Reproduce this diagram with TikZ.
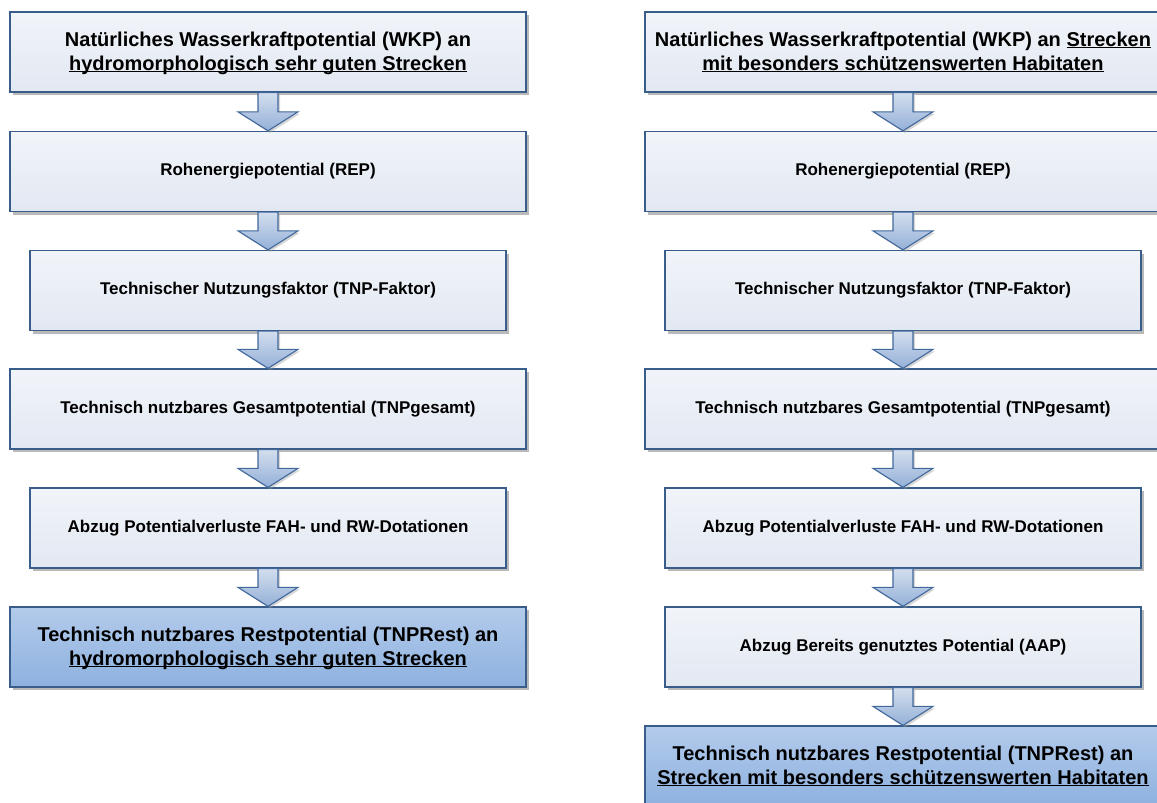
\documentclass[tikz,border=0pt]{standalone}
\usepackage{fontspec}
\setmainfont{Liberation Sans}
\usetikzlibrary{calc,shadows}

\definecolor{boxline}{HTML}{385D8A}
\definecolor{boxtop}{HTML}{F1F4F9}
\definecolor{boxbottom}{HTML}{E2E8F2}
\definecolor{endtop}{HTML}{B3CBEB}
\definecolor{endbottom}{HTML}{8DB1DF}
\definecolor{arrowtop}{HTML}{D3DEEE}
\definecolor{arrowbottom}{HTML}{94B0D7}
\definecolor{arrowline}{HTML}{41689C}

% underline that cuts through the descenders
\newcommand{\ulinetext}[1]{\underline{\raisebox{0pt}[\height][0pt]{#1}}}

\tikzset{
  stepbox/.style={draw=boxline,line width=1.3pt,top color=boxtop,bottom color=boxbottom,
    minimum height=80,inner sep=2pt,align=center,
    drop shadow={shadow xshift=2.5pt,shadow yshift=-3pt,fill=black!50,opacity=0.55},
    font=\fontsize{17}{20}\selectfont\bfseries},
  widebox/.style={stepbox,minimum width=516},
  narrowbox/.style={stepbox,minimum width=476},
  headbox/.style={widebox,font=\fontsize{20}{24}\selectfont\bfseries},
  endbox/.style={headbox,top color=endtop,bottom color=endbottom},
  flowarrow/.style={draw=arrowline,line width=1.1pt,line join=miter,
    top color=arrowtop,bottom color=arrowbottom,
    drop shadow={shadow xshift=2pt,shadow yshift=-2pt,fill=black!40,opacity=0.4}}
}

\begin{document}
\begin{tikzpicture}[x=1pt,y=-1pt]

\useasboundingbox (0,0) rectangle (1157,803);
\clip (0,0) rectangle (1157,803);

%------------------------------------------------
% LEFT: hydromorphologisch sehr gute Strecken
%------------------------------------------------
\node[headbox] (l1) at (268,52) {Natürliches Wasserkraftpotential (WKP) an\\\ulinetext{hydromorphologisch sehr guten Strecken}};
\node[widebox] (l2) at (268,171.5) {Rohenergiepotential (REP)};
\node[narrowbox] (l3) at (268,290.5) {Technischer Nutzungsfaktor (TNP-Faktor)};
\node[widebox] (l4) at (268,409) {Technisch nutzbares Gesamtpotential (TNPgesamt)};
\node[narrowbox] (l5) at (268,528) {Abzug Potentialverluste FAH- und RW-Dotationen};
\node[endbox] (l6) at (268,647) {Technisch nutzbares Restpotential (TNPRest) an\\\ulinetext{hydromorphologisch sehr guten Strecken}};

%------------------------------------------------
% RIGHT: Strecken mit schuetzenswerten Habitaten
%------------------------------------------------
\node[headbox] (r1) at (903,52) {Natürliches Wasserkraftpotential (WKP) an \ulinetext{Strecken}\\\ulinetext{mit besonders schützenswerten Habitaten}};
\node[widebox] (r2) at (903,171.5) {Rohenergiepotential (REP)};
\node[narrowbox] (r3) at (903,290.5) {Technischer Nutzungsfaktor (TNP-Faktor)};
\node[widebox] (r4) at (903,409) {Technisch nutzbares Gesamtpotential (TNPgesamt)};
\node[narrowbox] (r5) at (903,528) {Abzug Potentialverluste FAH- und RW-Dotationen};
\node[narrowbox] (r6) at (903,647) {Abzug Bereits genutztes Potential (AAP)};
\node[endbox] (r7) at (903,766) {Technisch nutzbares Restpotential (TNPRest) an\\\ulinetext{Strecken mit besonders schützenswerten Habitaten}};

% Block arrows
\foreach \a/\b in {l1/l2,l2/l3,l3/l4,l4/l5,l5/l6,r1/r2,r2/r3,r3/r4,r4/r5,r5/r6,r6/r7}
  \draw[flowarrow] ($(\a.south)+(-10,0)$) -- ($(\b.north)+(-10,-19)$) -- ++(-20,0)
    -- (\b.north) -- ($(\b.north)+(30,-19)$) -- ++(-20,0) -- ($(\a.south)+(10,0)$) -- cycle;

\end{tikzpicture}
\end{document}
